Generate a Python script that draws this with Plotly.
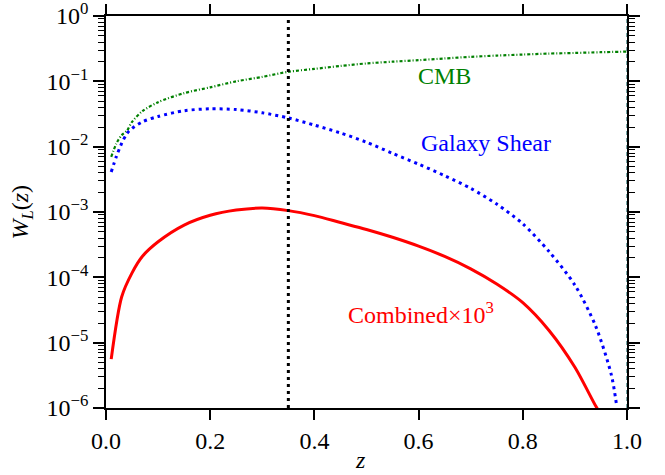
import plotly.graph_objects as go

# Lensing kernels W_L(z)
z_cmb = [0.01, 0.02, 0.03, 0.04, 0.05, 0.07, 0.10, 0.15, 0.20, 0.25, 0.30, 0.35, 0.40,
         0.45, 0.50, 0.55, 0.60, 0.65, 0.70, 0.75, 0.80, 0.85, 0.90, 0.95, 1.00]
w_cmb = [7.0e-3, 1.12e-2, 1.5e-2, 1.75e-2, 2.4e-2, 3.5e-2, 4.8e-2, 6.6e-2, 8.1e-2, 0.100,
         0.117, 0.140, 0.155, 0.172, 0.188, 0.200, 0.211, 0.224, 0.237, 0.248, 0.257,
         0.266, 0.272, 0.279, 0.285]

z_gal = [0.01, 0.02, 0.03, 0.04, 0.05, 0.07, 0.10, 0.15, 0.20, 0.25, 0.30, 0.35, 0.40,
         0.45, 0.50, 0.55, 0.60, 0.65, 0.70, 0.75, 0.80, 0.85, 0.90, 0.94, 0.97, 0.98]
w_gal = [4.1e-3, 7.1e-3, 1.12e-2, 1.58e-2, 1.9e-2, 2.4e-2, 2.9e-2, 3.55e-2, 3.8e-2, 3.7e-2,
         3.3e-2, 2.75e-2, 2.14e-2, 1.62e-2, 1.17e-2, 7.9e-3, 5.4e-3, 3.6e-3, 2.3e-3,
         1.32e-3, 6.6e-4, 2.5e-4, 7.6e-5, 1.78e-5, 3.2e-6, 1.1e-6]

z_comb = [0.01, 0.03, 0.05, 0.07, 0.10, 0.15, 0.20, 0.25, 0.30, 0.35, 0.40, 0.45, 0.50,
          0.55, 0.60, 0.65, 0.70, 0.75, 0.80, 0.85, 0.90, 0.94, 0.95]
w_comb = [5.6e-6, 5.0e-5, 1.17e-4, 2.1e-4, 3.5e-4, 6.3e-4, 8.9e-4, 1.07e-3, 1.15e-3,
          1.05e-3, 8.8e-4, 6.9e-4, 5.4e-4, 4.1e-4, 3.0e-4, 2.09e-4, 1.35e-4, 7.9e-5,
          4.1e-5, 1.55e-5, 4.2e-6, 1.07e-6, 8.0e-7]

z_cut = 0.35
z_max = 1.0

xtick_vals = [0.0, 0.2, 0.4, 0.6, 0.8, 1.0]
xtick_text = ["0.0", "0.2", "0.4", "0.6", "0.8", "1.0"]
ytick_vals = [1e-6, 1e-5, 1e-4, 1e-3, 1e-2, 1e-1, 1e0]
ytick_text = ["10<sup>−6</sup>", "10<sup>−5</sup>", "10<sup>−4</sup>", "10<sup>−3</sup>",
              "10<sup>−2</sup>", "10<sup>−1</sup>", "10<sup>0</sup>"]
# minor ticks at 2..9 within each decade
ytick_minor = [m * d for d in ytick_vals[:-1] for m in range(2, 10)]

FONT = "Liberation Serif"

fig = go.Figure()
fig.add_trace(go.Scatter(x=z_cmb, y=w_cmb, mode="lines",
                         line=dict(color="#008000", width=2.2, dash="3px,2px,1px,2px",
                                   shape="spline", smoothing=0.8)))
fig.add_trace(go.Scatter(x=z_gal, y=w_gal, mode="lines",
                         line=dict(color="#0000ff", width=3, dash="3px,4px",
                                   shape="spline", smoothing=0.8)))
fig.add_trace(go.Scatter(x=z_comb, y=w_comb, mode="lines",
                         line=dict(color="#ff0000", width=3, shape="spline", smoothing=0.8)))

# vertical markers
fig.add_shape(type="line", xref="x", yref="paper", x0=z_cut, x1=z_cut, y0=0, y1=1,
              line=dict(color="black", width=3, dash="3px,4px"))
fig.add_shape(type="line", xref="x", yref="paper", x0=z_max, x1=z_max, y0=0, y1=1,
              line=dict(color="#1f6f6f", width=1.2, dash="4px,3px"))

# curve labels
fig.add_annotation(x=0.65, y=-0.92, xref="x", yref="y", text="CMB", showarrow=False,
                   font=dict(family=FONT, size=24, color="#008000"))
fig.add_annotation(x=0.73, y=-1.95, xref="x", yref="y", text="Galaxy Shear", showarrow=False,
                   font=dict(family=FONT, size=24, color="#0000ff"))
fig.add_annotation(x=0.604, y=-4.55, xref="x", yref="y", text="Combined×10<sup>3</sup>",
                   showarrow=False, font=dict(family=FONT, size=24, color="#ff0000"))

# axis titles
fig.add_annotation(x=0.488, y=-0.133, xref="paper", yref="paper", text="<i>z</i>",
                   showarrow=False, yanchor="middle",
                   font=dict(family=FONT, size=24, color="black"))
fig.add_annotation(x=-0.162, y=0.5, xref="paper", yref="paper",
                   text="<i>W<sub>L</sub></i>(<i>z</i>)", textangle=-90, showarrow=False,
                   xanchor="center", font=dict(family=FONT, size=24, color="black"))

axis_common = dict(showline=True, linecolor="black", linewidth=1.5, mirror="allticks",
                   ticks="outside", tickcolor="black", tickwidth=1.5, showgrid=False,
                   zeroline=False, automargin=False, ticklabeloverflow="allow",
                   tickfont=dict(family=FONT, size=24, color="black"))

fig.update_xaxes(range=[0, 1], tickvals=xtick_vals, ticktext=xtick_text, ticklen=10,
                 **axis_common)
fig.update_yaxes(type="log", range=[-6, 0], tickvals=ytick_vals, ticktext=ytick_text,
                 ticklen=11,
                 minor=dict(ticks="outside", ticklen=6, tickwidth=1.2, tickcolor="black",
                            tickmode="array", tickvals=ytick_minor, showgrid=False),
                 **axis_common)

fig.update_layout(width=665, height=475, showlegend=False,
                  plot_bgcolor="white", paper_bgcolor="white",
                  margin=dict(l=106, r=38, t=16, b=67))

fig.write_html("out.html")
